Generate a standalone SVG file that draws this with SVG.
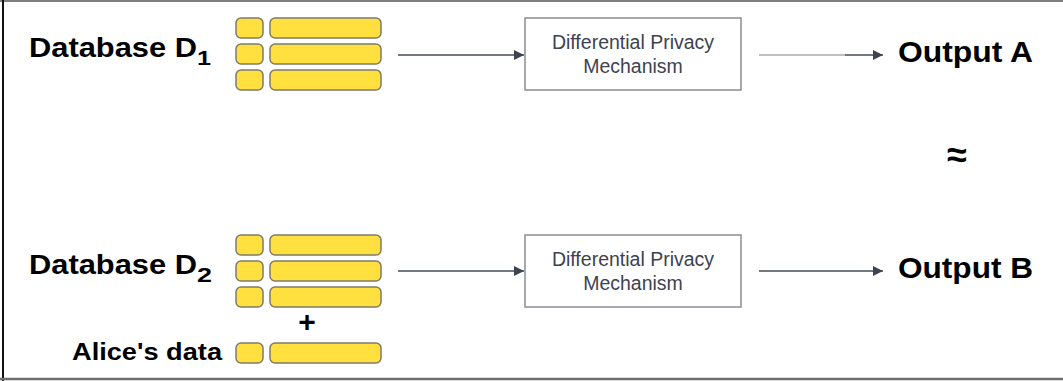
<svg xmlns="http://www.w3.org/2000/svg" width="1063" height="381" viewBox="0 0 1063 381">
<defs>
<style>
.cell{fill:#ffe03f;stroke:#7d7b6c;stroke-width:1.5}
.lbl{font-family:"Liberation Sans",Arial,sans-serif;font-weight:bold;fill:#000}
.box{fill:#fff;stroke:#8a8d93;stroke-width:1.5}
.bt{font-family:"Liberation Sans",Arial,sans-serif;font-size:19.5px;fill:#3d4350;text-anchor:middle}
.ln{stroke:#454b55;stroke-width:1.4;fill:none}
</style>
<marker id="ah" viewBox="0 0 10 10" refX="10" refY="5" markerWidth="15" markerHeight="10" markerUnits="userSpaceOnUse" orient="auto">
<path d="M0,0 L10,5 L0,10 Z" fill="#3d4350"/>
</marker>
<g id="rowcells">
<rect class="cell" x="236" y="0" width="27" height="20" rx="5"/>
<rect class="cell" x="270" y="0" width="111" height="20" rx="5"/>
</g>
</defs>
<rect x="0" y="0" width="1063" height="381" fill="#fff"/>
<g id="frame">
<line x1="0" y1="1" x2="1063" y2="1" stroke="#808080" stroke-width="2"/>
<line x1="3" y1="0" x2="3" y2="381" stroke="#111" stroke-width="2"/>
<line x1="0" y1="379" x2="1063" y2="379" stroke="#707070" stroke-width="2.5"/>
</g>
<g id="db1">
<text class="lbl" x="29" y="57" font-size="28" textLength="168" lengthAdjust="spacingAndGlyphs">Database D</text>
<text class="lbl" x="197" y="65" font-size="21" textLength="14" lengthAdjust="spacingAndGlyphs">1</text>
<use href="#rowcells" y="18"/>
<use href="#rowcells" y="44"/>
<use href="#rowcells" y="70"/>
</g>
<g id="db2">
<text class="lbl" x="29" y="274" font-size="28" textLength="168" lengthAdjust="spacingAndGlyphs">Database D</text>
<text class="lbl" x="197" y="282" font-size="21" textLength="15" lengthAdjust="spacingAndGlyphs">2</text>
<use href="#rowcells" y="235"/>
<use href="#rowcells" y="261"/>
<use href="#rowcells" y="287"/>
</g>
<g id="plus">
<text class="lbl" x="307" y="332" font-size="30" text-anchor="middle">+</text>
</g>
<g id="alice">
<text class="lbl" x="222" y="360" font-size="23" text-anchor="end" textLength="150" lengthAdjust="spacingAndGlyphs">Alice's data</text>
<use href="#rowcells" y="343"/>
</g>
<g id="dp1">
<rect class="box" x="525" y="18" width="216" height="72"/>
<text class="bt" x="633" y="49">Differential Privacy</text>
<text class="bt" x="633" y="73">Mechanism</text>
</g>
<g id="dp2">
<rect class="box" x="525" y="235" width="216" height="72"/>
<text class="bt" x="633" y="266">Differential Privacy</text>
<text class="bt" x="633" y="290">Mechanism</text>
</g>
<g id="outA">
<text class="lbl" x="898" y="62" font-size="30" textLength="135" lengthAdjust="spacingAndGlyphs">Output A</text>
</g>
<g id="outB">
<text class="lbl" x="898" y="278" font-size="30" textLength="135" lengthAdjust="spacingAndGlyphs">Output B</text>
</g>
<g id="approx">
<text class="lbl" x="957" y="167" font-size="36" text-anchor="middle">≈</text>
</g>
<g id="connectors">
<line class="ln" x1="398" y1="55" x2="524" y2="55" marker-end="url(#ah)"/>
<line x1="759" y1="55" x2="845" y2="55" stroke="#a9abb0" stroke-width="1.4"/>
<line class="ln" x1="845" y1="55" x2="883" y2="55" marker-end="url(#ah)"/>
<line class="ln" x1="398" y1="271" x2="524" y2="271" marker-end="url(#ah)"/>
<line class="ln" x1="759" y1="271" x2="883" y2="271" marker-end="url(#ah)"/>
</g>
</svg>
